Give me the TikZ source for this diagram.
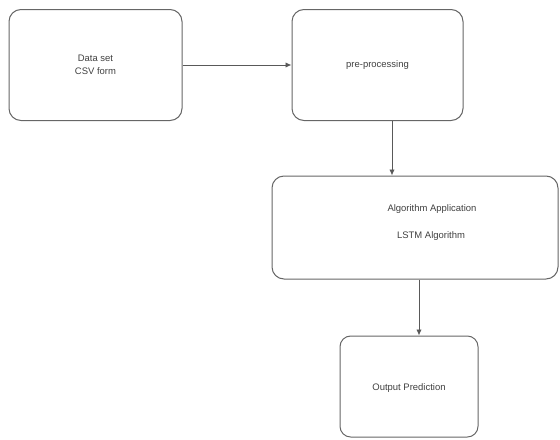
\documentclass[tikz,border=0pt]{standalone}
\usepackage{fontspec}
\setmainfont{Liberation Sans}
\usetikzlibrary{arrows.meta}
\begin{document}
\begin{tikzpicture}[x=0.75pt,y=-0.75pt,
  box/.style={draw=black!60,line width=0.75pt,rounded corners=9pt,inner sep=0pt},
  lbl/.style={font=\fontsize{7.1pt}{9.6pt}\selectfont,text=black!75,align=center,inner sep=0pt},
  conn/.style={draw=black!65,line width=0.7pt,-{Latex[length=4.5pt,width=4pt]}}]
\useasboundingbox (0,0) rectangle (560,439);
\node[box,minimum width=129.75pt,minimum height=83.25pt] (b1) at (95.5,65) {};
\node[box,minimum width=128.25pt,minimum height=83.25pt] (b2) at (377.5,65) {};
\node[box,minimum width=214.5pt,minimum height=77.25pt] (b3) at (415,227.5) {};
\node[box,rounded corners=8pt,minimum width=103.5pt,minimum height=75.75pt] (b4) at (409,386.5) {};
\node[lbl] (t1) at (95.5,64.5) {Data set\\CSV form};
\node[lbl] (t2) at (377.5,65) {pre-processing};
\node[lbl] (t3a) at (432,209) {Algorithm Application};
\node[lbl] (t3b) at (431,236) {LSTM Algorithm};
\node[lbl] (t4) at (409,388) {Output Prediction};
\coordinate (c2) at (392,0);
\coordinate (c3) at (419,0);
\draw[conn] (b1.east) -- (b2.west);
\draw[conn] (b2.south -| c2) -- (b3.north -| c2);
\draw[conn] (b3.south -| c3) -- (b4.north -| c3);
\end{tikzpicture}
\end{document}
